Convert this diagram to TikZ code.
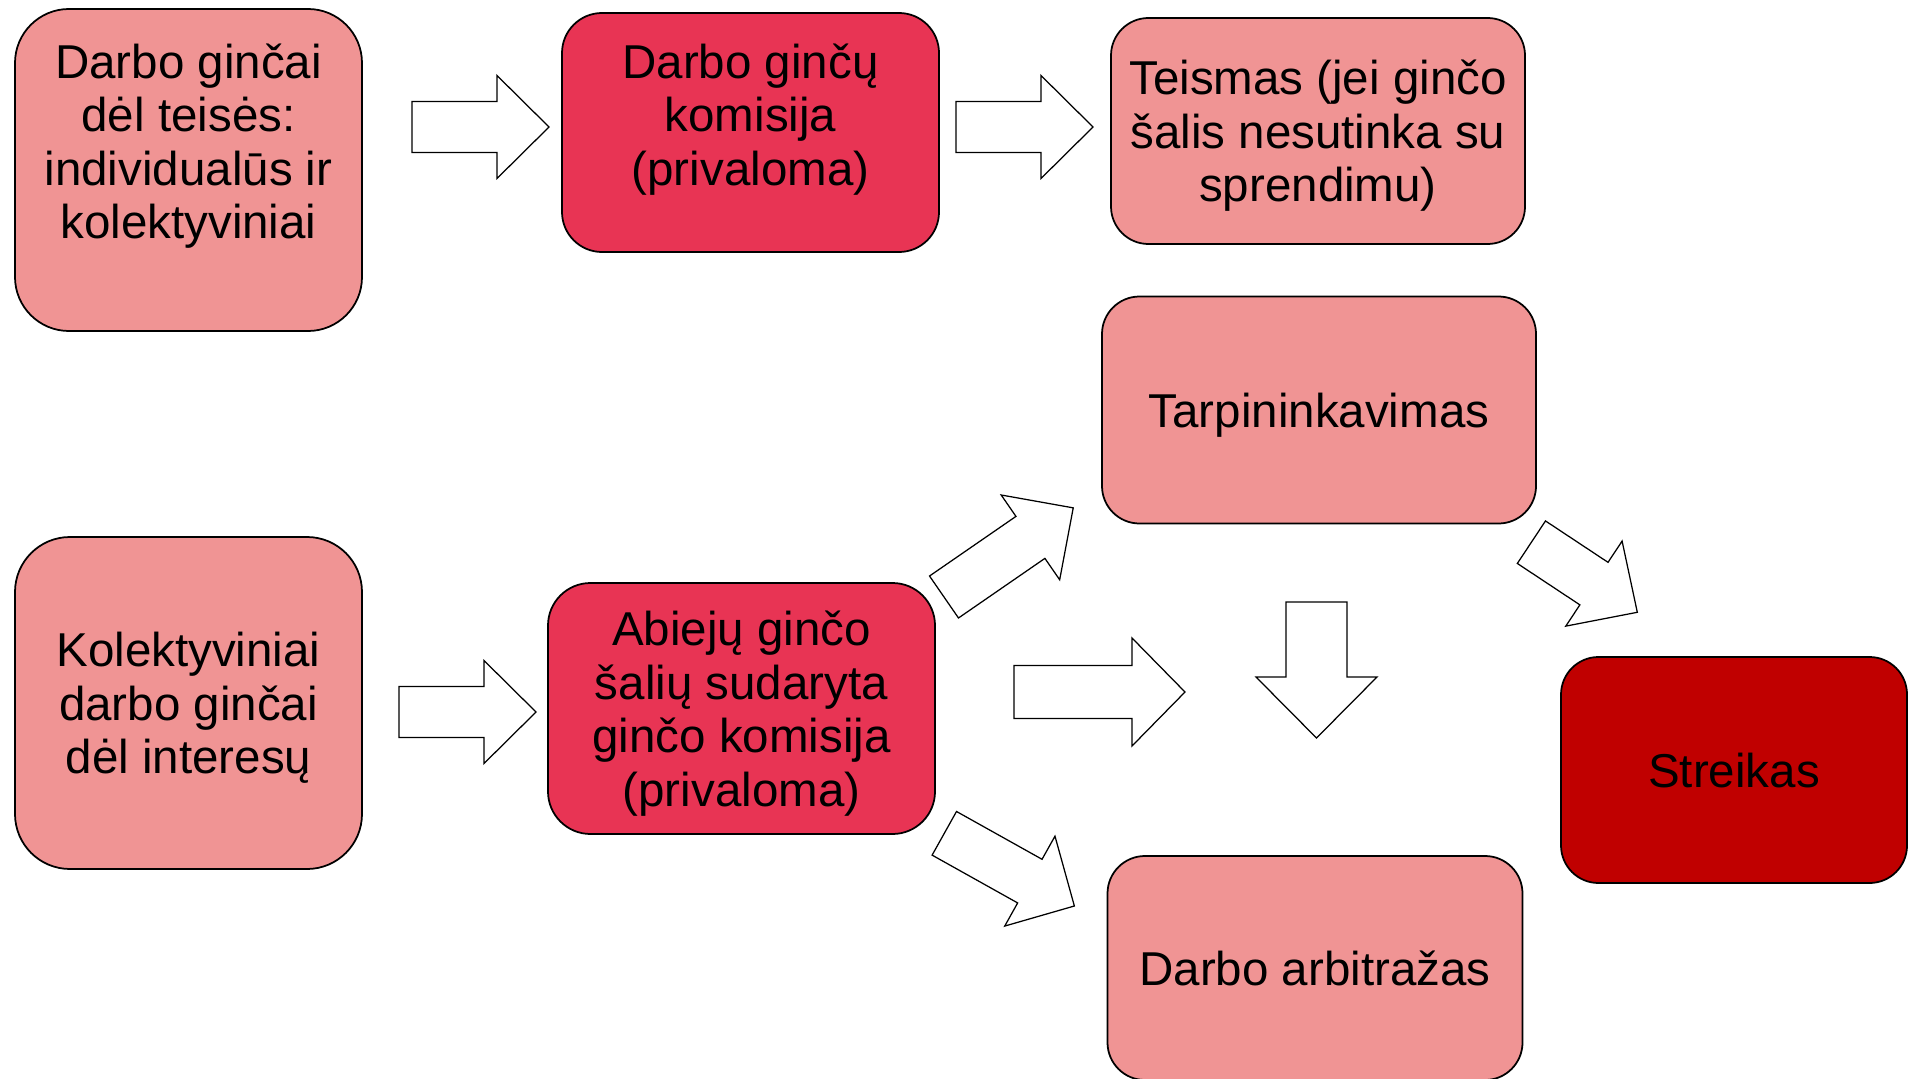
\documentclass[tikz,border=0pt]{standalone}
\usepackage{fontspec}
\setmainfont{Liberation Sans}
\usepackage{tikz}
\usetikzlibrary{positioning}
\definecolor{lightred}{HTML}{F09494}
\definecolor{midred}{HTML}{E83454}
\definecolor{darkred}{HTML}{C00000}

% hollow block arrow: tail, angle, length, half shaft, half head, head length
\newcommand{\blockarrow}[6]{%
  \begin{scope}[shift={#1},rotate=#2]
    \draw[blockarr] (0,-#4) -- ({#3-#6},-#4) -- ({#3-#6},-#5) -- (#3,0)
      -- ({#3-#6},#5) -- ({#3-#6},#4) -- (0,#4) -- cycle;
  \end{scope}}

\begin{document}
\begin{tikzpicture}[
x=0.4pt, y=-0.4pt,
font=\fontsize{19}{21.4}\selectfont,
roundbox/.style={draw=black, line width=0.7pt, align=center, inner sep=0pt,
  text depth=0pt},
lightbox/.style={roundbox, fill=lightred},
midbox/.style={roundbox, fill=midred},
darkbox/.style={roundbox, fill=darkred},
blockarr/.style={draw=black, fill=white, line width=0.5pt, line join=miter}
]
    \useasboundingbox (0,0) rectangle (1912,1079);

    % Upper row
    \node[lightbox, minimum width=138.8pt, minimum height=128.8pt,
      rounded corners=21.6pt, text depth=23pt] (teise) at (188.5,170)
      {Darbo ginčai\\dėl teisės:\\individualūs ir\\kolektyviniai};
    \node[midbox, minimum width=150.8pt, minimum height=95.6pt,
      rounded corners=16pt, text depth=14.6pt] (komisija) at (750.5,132.5)
      {Darbo ginčų\\komisija\\(privaloma)};
    \node[lightbox, minimum width=165.6pt, minimum height=90.4pt,
      rounded corners=15pt] (teismas) at (1318,131)
      {Teismas (jei ginčo\\šalis nesutinka su\\sprendimu)};

    % Lower part
    \node[lightbox, minimum width=173.6pt, minimum height=90.8pt,
      rounded corners=15pt] (tarp) at (1319,410) {Tarpininkavimas};
    \node[lightbox, minimum width=138.8pt, minimum height=132.8pt,
      rounded corners=22pt] (interes) at (188.5,703)
      {Kolektyviniai\\darbo ginčai\\dėl interesų};
    \node[midbox, minimum width=154.8pt, minimum height=100.4pt,
      rounded corners=17pt] (salys) at (741.5,708.5)
      {Abiejų ginčo\\šalių sudaryta\\ginčo komisija\\(privaloma)};
    \node[lightbox, minimum width=166pt, minimum height=89.6pt,
      rounded corners=15pt] (arbitr) at (1315,968) {Darbo arbitražas};
    \node[darkbox, minimum width=138.4pt, minimum height=90.4pt,
      rounded corners=15pt] (streik) at (1734,770) {Streikas};

    % Block arrows
    \blockarrow{(412,127)}{0}{137}{25.5}{51.5}{52}
    \blockarrow{(956,127)}{0}{137}{25.5}{51.5}{52}
    \blockarrow{(399,712)}{0}{137}{25.5}{51.5}{52}
    \blockarrow{(1014,692)}{0}{171}{26.5}{54}{53}
    \blockarrow{(1316.5,602)}{-90}{136}{30.5}{60.5}{61}
    \blockarrow{(944,597)}{34.6}{157}{25.5}{51.5}{52}
    \blockarrow{(944.3,833.3)}{-29.2}{149}{25}{51.5}{51}
    \blockarrow{(1531.4,542.2)}{-33.5}{127}{25.5}{51}{52}
\end{tikzpicture}
\end{document}
